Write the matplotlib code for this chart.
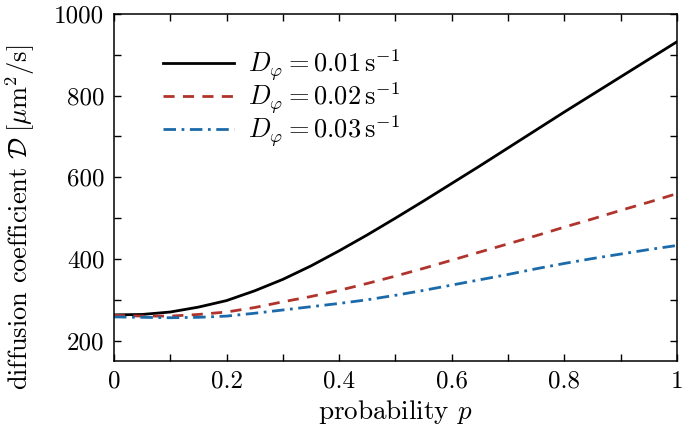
import numpy as np
import matplotlib
matplotlib.use("Agg")
import matplotlib.pyplot as plt
from matplotlib.ticker import MultipleLocator

# Data
p = [0.0, 0.05, 0.1, 0.15, 0.2, 0.25, 0.3, 0.35, 0.4, 0.45, 0.5,
     0.55, 0.6, 0.65, 0.7, 0.75, 0.8, 0.85, 0.9, 0.95, 1.0]
D_001 = [263, 264, 270, 282, 298, 322, 350, 383, 420, 459, 500,
         542, 585, 628, 672, 716, 760, 803, 846, 889, 932]
D_002 = [262, 260, 260, 264, 270, 281, 295, 308, 323, 340, 358,
         377, 397, 417, 437, 457, 478, 498, 519, 539, 560]
D_003 = [258, 257, 256, 257, 260, 267, 275, 283, 291, 300, 311,
         323, 336, 349, 362, 376, 389, 401, 412, 423, 433]
labels = [r'$D_\varphi = 0.01\,\mathrm{s}^{-1}$',
          r'$D_\varphi = 0.02\,\mathrm{s}^{-1}$',
          r'$D_\varphi = 0.03\,\mathrm{s}^{-1}$']
xticks = [0, 0.2, 0.4, 0.6, 0.8, 1]
xticklabels = ['0', '0.2', '0.4', '0.6', '0.8', '1']
yticks = [200, 400, 600, 800, 1000]

plt.rcParams['font.family'] = 'serif'
plt.rcParams['font.serif'] = ['cmr10', 'DejaVu Serif']
plt.rcParams['mathtext.fontset'] = 'cm'
plt.rcParams['axes.unicode_minus'] = False
plt.rcParams['axes.formatter.use_mathtext'] = True

fig = plt.figure(figsize=(6.85, 4.37), dpi=100)
ax = fig.add_axes([0.1664, 0.1739, 0.8219, 0.7941])

ax.plot(p, D_001, color='black', lw=2.0, ls='-', label=labels[0])
ax.plot(p, D_002, color='#b0342c', lw=2.0, ls=(0, (4, 3)), label=labels[1])
ax.plot(p, D_003, color='#1b6aaa', lw=2.0, ls=(0, (4.5, 2, 1, 2)), label=labels[2])

ax.set_xlim(0, 1)
ax.set_ylim(150, 1000)
ax.set_xticks(xticks)
ax.set_xticklabels(xticklabels)
ax.set_yticks(yticks)
ax.set_yticklabels([str(v) for v in yticks])
ax.xaxis.set_minor_locator(MultipleLocator(0.1))
ax.yaxis.set_minor_locator(MultipleLocator(100))
ax.tick_params(which='both', direction='in', top=True, right=True, labelsize=18, width=1.0)
ax.tick_params(which='major', length=5, pad=7)
ax.tick_params(which='minor', length=5)
for s in ax.spines.values():
    s.set_linewidth(1.1)

ax.set_xlabel(r'probability $p$', fontsize=19.5, labelpad=4)
ax.set_ylabel(r'diffusion coefficient $\mathcal{D}\;[\mu\mathrm{m}^2/\mathrm{s}]$', fontsize=19)
ax.yaxis.set_label_coords(-0.136, 0.415)

ax.legend(loc='upper left', bbox_to_anchor=(0.045, 0.973), frameon=False, fontsize=19,
          handlelength=2.7, handletextpad=0.5, labelspacing=-0.1)

fig.savefig('out.png', dpi=100)
